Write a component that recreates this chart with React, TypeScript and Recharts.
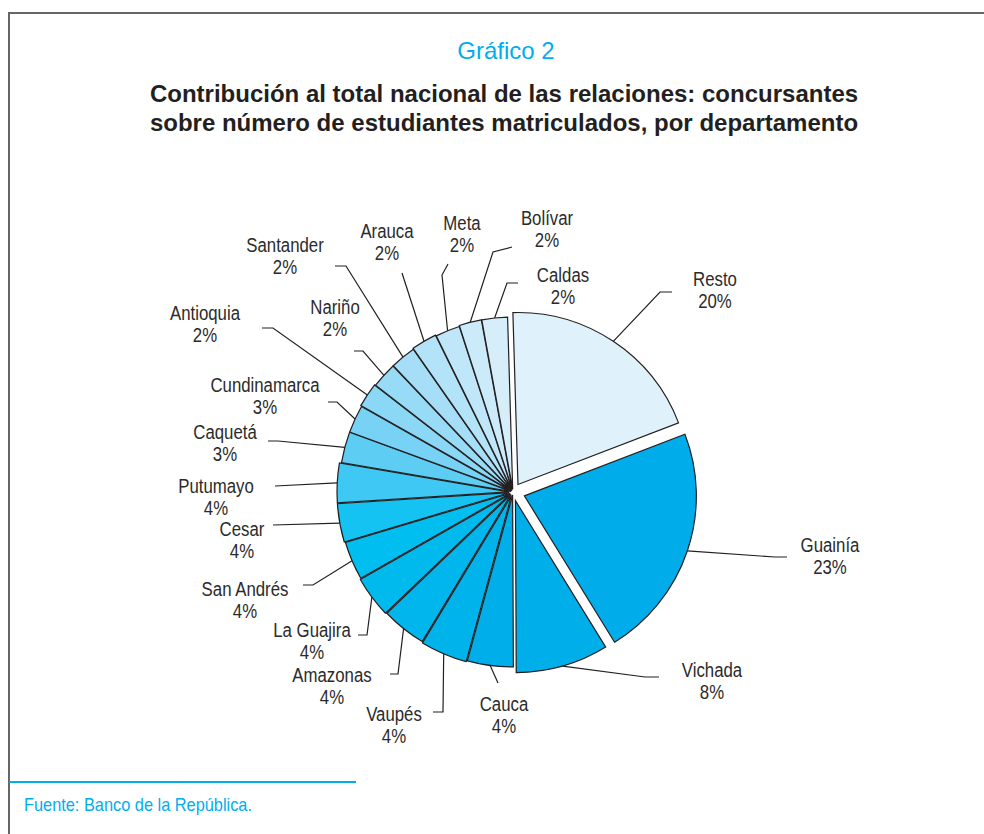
import React from "react";
import { PieChart, Pie, Cell, Sector } from "recharts";

// departments, clockwise from the top
const departments = [
  "Resto", "Guainía", "Vichada", "Cauca", "Vaupés", "Amazonas", "La Guajira",
  "San Andrés", "Cesar", "Putumayo", "Caquetá", "Cundinamarca", "Antioquia",
  "Nariño", "Santander", "Arauca", "Meta", "Bolívar", "Caldas",
];
// share of the national total (%), as drawn
const shares = [
  19.6, 22.0, 8.7, 4.3, 4.4, 4.2, 3.9, 3.6, 3.6, 3.7, 2.9, 2.6, 2.3, 2.4, 2.4,
  2.4, 2.3, 2.1, 2.4,
];
// rounded figures printed on the labels
const shareLabels = [20, 23, 8, 4, 4, 4, 4, 4, 4, 4, 3, 3, 2, 2, 2, 2, 2, 2, 2];

const sliceColors = [
  "#dff1fb", "#00adea", "#00aeea", "#00afea", "#00b3eb", "#00b6ec", "#00baee",
  "#00bef0", "#14c3f2", "#3ec8f3", "#5ecdf4", "#78d2f5", "#8ad7f6", "#98dbf7",
  "#a6def8", "#b3e3f8", "#bfe7f9", "#cbebfa", "#d5eefa",
];

// how far each slice is pulled out of the pie (px)
const EXPLODE = [9, 12, 9, 3, 4, 3, 4, 3, 4, 4, 2, 2, 3, 2, 2, 3, 2, 3, 3];

// leader elbow, leader end and label centre, relative to the pie centre
const LABEL_LAYOUT: { elbow: number[]; tail: number[]; text: number[] }[] = [
  { elbow: [147, -200], tail: [159, -200], text: [202, -213] },
  { elbow: [262, 65], tail: [274, 65], text: [317, 53] },
  { elbow: [132, 185], tail: [146, 185], text: [199, 178] },
  { elbow: [-15, 191], tail: [-15, 191], text: [-9, 212] },
  { elbow: [-70, 220], tail: [-80, 220], text: [-119, 222] },
  { elbow: [-115, 182], tail: [-123, 182], text: [-181, 183] },
  { elbow: [-146, 143], tail: [-155, 143], text: [-201, 138] },
  { elbow: [-200, 93], tail: [-210, 93], text: [-268, 97] },
  { elbow: [-240, 33], tail: [-240, 33], text: [-271, 37] },
  { elbow: [-238, -6], tail: [-238, -6], text: [-297, -6] },
  { elbow: [-235, -51], tail: [-245, -51], text: [-288, -60] },
  { elbow: [-176, -90], tail: [-185, -90], text: [-248, -107] },
  { elbow: [-240, -164], tail: [-251, -164], text: [-308, -179] },
  { elbow: [-150, -141], tail: [-159, -141], text: [-178, -185] },
  { elbow: [-167, -226], tail: [-178, -226], text: [-228, -247] },
  { elbow: [-111, -219], tail: [-111, -219], text: [-126, -261] },
  { elbow: [-71, -217], tail: [-65, -228], text: [-51, -269] },
  { elbow: [-20, -240], tail: [-1, -245], text: [34, -274] },
  { elbow: [-6, -209], tail: [5, -209], text: [50, -217] },
];

const data = departments.map((name, i) => ({ name, value: shares[i] }));

const RAD = Math.PI / 180;
const INK = "#231f20";
const LABEL_INK = "#2b2b2b";
const CYAN = "#00aeef";
const SANS = '"Liberation Sans", Arial, sans-serif';

const ExplodedSector = (props: any) => {
  const i = departments.indexOf(props.payload?.name ?? props.name);
  const e = EXPLODE[i] ?? 0;
  const dx = e * Math.cos(-props.midAngle * RAD);
  const dy = e * Math.sin(-props.midAngle * RAD);
  return (
    <Sector
      cx={props.cx + dx}
      cy={props.cy + dy}
      innerRadius={0}
      outerRadius={props.outerRadius}
      startAngle={props.startAngle}
      endAngle={props.endAngle}
      fill={sliceColors[i]}
      stroke={INK}
      strokeWidth={1.2}
    />
  );
};

const renderLabel = (props: any) => {
  const { cx, cy, midAngle, outerRadius, index } = props;
  const e = EXPLODE[index];
  const sx = cx + (outerRadius + e) * Math.cos(-midAngle * RAD);
  const sy = cy + (outerRadius + e) * Math.sin(-midAngle * RAD);
  const L = LABEL_LAYOUT[index];
  const pts = [
    [sx, sy],
    [cx + L.elbow[0], cy + L.elbow[1]],
    [cx + L.tail[0], cy + L.tail[1]],
  ]
    .map((p) => p.join(","))
    .join(" ");
  const tx = cx + L.text[0];
  const ty = cy + L.text[1] + 6.5;
  // condensed look: squeeze the text horizontally
  return (
    <g key={`lbl-${index}`}>
      <polyline points={pts} fill="none" stroke={INK} strokeWidth={1.2} />
      <text
        transform={`translate(${tx},${ty}) scale(0.8,1)`}
        textAnchor="middle"
        fill={LABEL_INK}
        fontSize={21}
        fontFamily={SANS}
      >
        <tspan x={0}>{departments[index]}</tspan>
        <tspan x={0} dy={23}>{shareLabels[index]}%</tspan>
      </text>
    </g>
  );
};

export default function App() {
  return (
    <div style={{ position: "relative", width: 984, height: 834, background: "#fff", overflow: "hidden" }}>
      <style>{"body{margin:0}"}</style>
      {/* frame */}
      <div style={{ position: "absolute", left: 8, top: 12, width: 976, height: 2, background: "#666" }} />
      <div style={{ position: "absolute", left: 8, top: 12, width: 2, height: 822, background: "#666" }} />

      <div
        style={{
          position: "absolute", top: 37, left: 0, width: 1012, textAlign: "center",
          color: CYAN, fontSize: 24, fontFamily: SANS,
        }}
      >
        Gráfico 2
      </div>
      <div
        style={{
          position: "absolute", top: 79, left: 0, width: 1008, textAlign: "center",
          color: INK, fontSize: 24, fontWeight: "bold", lineHeight: "29px",
          fontFamily: SANS,
        }}
      >
        Contribución al total nacional de las relaciones: concursantes
        <br />
        sobre número de estudiantes matriculados, por departamento
      </div>

      <div style={{ position: "absolute", left: 0, top: 0 }}>
        <PieChart width={984} height={834}>
          <Pie
            data={data}
            dataKey="value"
            nameKey="name"
            cx={508}
            cy={487}
            innerRadius={0}
            outerRadius={172}
            startAngle={91.7}
            endAngle={-268.3}
            stroke={INK}
            strokeWidth={1.2}
            shape={ExplodedSector}
            label={renderLabel}
            labelLine={false}
            isAnimationActive={false}
          >
            {data.map((d, i) => (
              <Cell key={d.name} fill={sliceColors[i]} />
            ))}
          </Pie>
        </PieChart>
      </div>

      {/* source */}
      <div style={{ position: "absolute", left: 9, top: 781, width: 347, height: 2, background: CYAN }} />
      <div
        style={{
          position: "absolute", left: 24, top: 794, color: CYAN, fontSize: 19,
          fontFamily: SANS, transform: "scaleX(0.86)", transformOrigin: "0 0",
          whiteSpace: "nowrap",
        }}
      >
        Fuente: Banco de la República.
      </div>
    </div>
  );
}
